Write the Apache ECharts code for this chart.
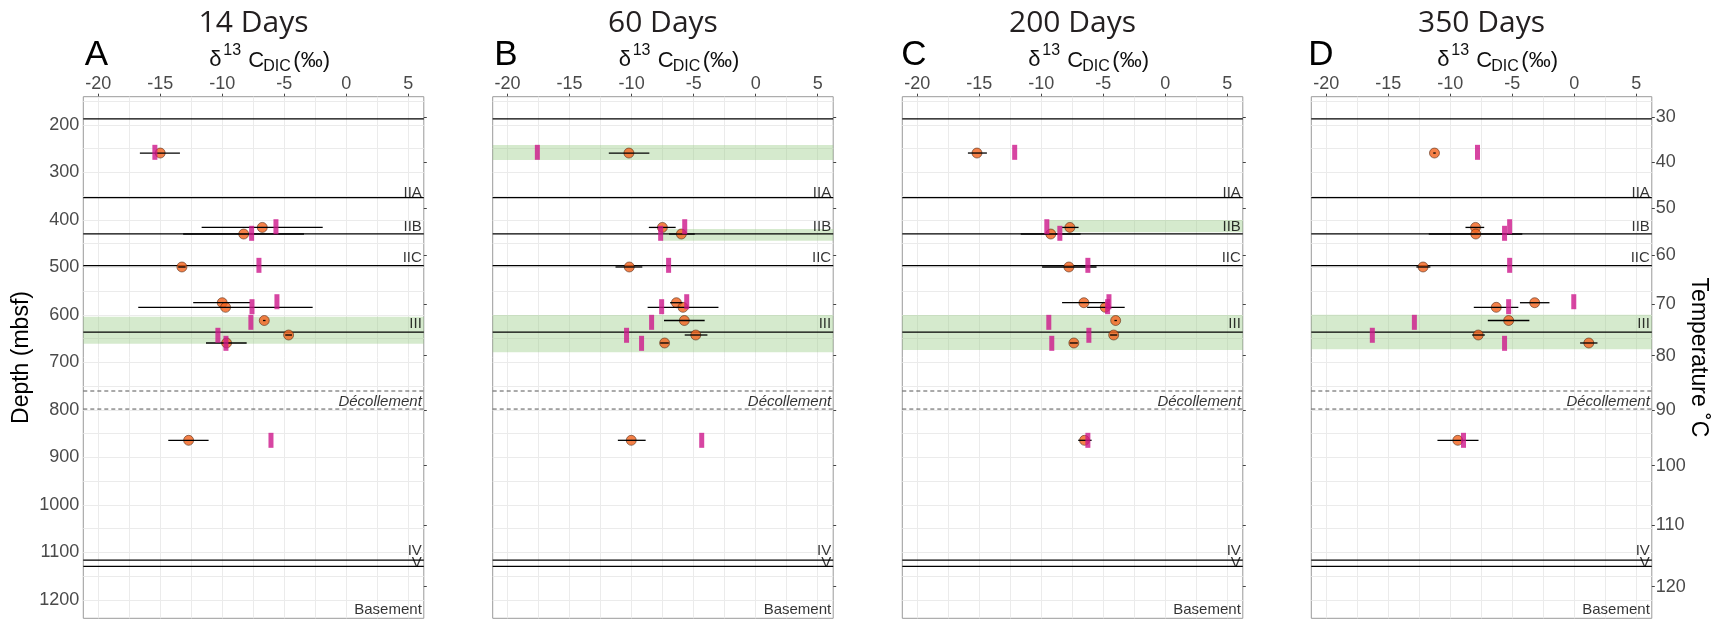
<!DOCTYPE html>
<html>
<head>
<meta charset="utf-8">
<script src="https://cdn.jsdelivr.net/npm/echarts@6/dist/echarts.min.js"></script>
<style>
  html, body { margin: 0; padding: 0; background: #ffffff; }
  #chart { width: 1717px; height: 621px; }
</style>
</head>
<body>
<div id="chart"></div>
<script>
// ---- data -------------------------------------------------------------
const panelTitles = ['14 Days', '60 Days', '200 Days', '350 Days'];
const panelLetters = ['A', 'B', 'C', 'D'];

const xTicks = [-20, -15, -10, -5, 0, 5];
const xGridValues = [-20, -17.5, -15, -12.5, -10, -7.5, -5, -2.5, 0, 2.5, 5];
const depthTicks = [200, 300, 400, 500, 600, 700, 800, 900, 1000, 1100, 1200];
const depthGridValues = [150, 200, 250, 300, 350, 400, 450, 500, 550, 600, 650, 700, 750,
  800, 850, 900, 950, 1000, 1050, 1100, 1150, 1200];

// temperature scale (right axis) and the depths where each value falls
const tempTicks = [30, 40, 50, 60, 70, 80, 90, 100, 110, 120];
const tempTickDepths = [183.8, 278.5, 375.4, 473.7, 576.8, 685.7, 800, 917.3, 1042.1, 1172.0];

// lithologic unit boundaries (mbsf)
const unitBoundaries = [187, 353, 429, 496, 636, 1116, 1129];
const decollementBounds = [760, 798];
const unitNames = ['IIA', 'IIB', 'IIC', 'III', 'Décollement', 'IV', 'V', 'Basement'];
const unitNameDepths = [342.5, 414.7, 480, 617.9, 782.5, 1096.8, 1122.1, 1220.4];

// sample depths (mbsf)
const sampleDepths = [259, 415.6, 429.5, 498.9, 574.1, 583.8, 611.6, 642.1, 658.9, 863.8];
const markerDepths = [257.5, 414.1, 428, 495.4, 572, 582.5, 615.4, 642.7, 659.6, 863.8];

// δ13C-DIC (‰): measured mean, error range, reference value
const dic14    = [-15.0, -6.77, -8.27, -13.25, -10.0, -9.73, -6.61, -4.65, -9.65, -12.71];
const dicLo14  = [-16.64, -11.66, -13.15, -13.55, -12.34, -16.77, -6.71, -4.92, -11.31, -14.35];
const dicHi14  = [-13.41, -1.90, -3.41, -12.95, -7.75, -2.71, -6.51, -4.38, -8.03, -11.10];
const mark14   = [-15.43, -5.67, -7.63, -7.04, -5.59, -7.60, -7.69, -10.35, -9.70, -6.07];

const dic60    = [-10.22, -7.52, -5.99, -10.19, -6.39, -5.86, -5.75, -4.83, -7.34, -10.03];
const dicLo60  = [-11.84, -8.61, -6.99, -11.30, -6.9, -8.71, -7.39, -5.72, -7.7, -11.11];
const dicHi60  = [-8.57, -6.45, -4.91, -9.14, -5.9, -3.0, -4.11, -3.89, -7.0, -8.87];
const mark60   = [-17.6, -5.72, -7.66, -7.02, -5.56, -7.58, -8.39, -10.41, -9.20, -4.35];

const dic200   = [-15.18, -7.69, -9.23, -7.77, -6.56, -4.84, -4.0, -4.16, -7.37, -6.51];
const dicLo200 = [-15.91, -8.32, -11.65, -9.93, -8.32, -6.30, -4.1, -4.45, -7.7, -7.02];
const dicHi200 = [-14.38, -6.99, -6.83, -5.54, -4.87, -3.27, -3.9, -3.87, -7.05, -5.94];
const mark200  = [-12.14, -9.55, -8.50, -6.24, -4.54, -4.65, -9.39, -6.16, -9.15, -6.24];

const dic350   = [-11.27, -7.96, -7.94, -12.19, -3.19, -6.29, -5.29, -7.74, 1.17, -9.39];
const dicLo350 = [-11.37, -8.77, -11.73, -12.73, -4.38, -8.10, -6.97, -8.23, 0.47, -11.03];
const dicHi350 = [-11.17, -7.26, -4.19, -11.60, -2.0, -4.51, -3.62, -7.21, 1.87, -7.72];
const mark350  = [-7.80, -5.21, -5.62, -5.21, -0.04, -5.29, -12.89, -16.28, -5.62, -8.93];

// highlighted intervals: [start δ13C (null = full width), top depth, bottom depth]
const bands14  = [[null, 603.6, 660.4]];
const bands60  = [[null, 242.1, 273.7], [-7.52, 418.9, 443.6], [null, 600, 678.5]];
const bands200 = [[-9.45, 400, 425.9], [null, 600, 673.7]];
const bands350 = [[null, 599.4, 672.2]];

const panels = [
  { mean: dic14,  lo: dicLo14,  hi: dicHi14,  mark: mark14,  bands: bands14 },
  { mean: dic60,  lo: dicLo60,  hi: dicHi60,  mark: mark60,  bands: bands60 },
  { mean: dic200, lo: dicLo200, hi: dicHi200, mark: mark200, bands: bands200 },
  { mean: dic350, lo: dicLo350, hi: dicHi350, mark: mark350, bands: bands350 }
];

// ---- layout -----------------------------------------------------------
const X_MIN = -21.2, X_MAX = 6.25;
const Y_MIN = 140.4, Y_MAX = 1238.5;
const gridLefts = [83.3, 492.7, 902.3, 1311.3];
const GRID_W = 340.5, GRID_TOP = 96.7, GRID_H = 521.6;
const SANS = '"Liberation Sans", Arial, sans-serif';
const TICK_FONT = 18;

// snap a pixel coordinate to the centre of a device pixel for crisp 1px lines
const crisp = v => Math.round(v - 0.5) + 0.5;

const chart = echarts.init(document.getElementById('chart'), null, { renderer: 'canvas' });

const grids = [], xAxes = [], yAxes = [], series = [], graphics = [];

panels.forEach((p, i) => {
  grids.push({
    left: gridLefts[i], top: GRID_TOP, width: GRID_W, height: GRID_H,
    show: true, borderColor: '#9a9a9a', borderWidth: 1, backgroundColor: '#ffffff',
    containLabel: false, outerBoundsMode: 'none'
  });

  xAxes.push({
    type: 'value', gridIndex: i, position: 'top', min: X_MIN, max: X_MAX,
    axisLine: { show: false },
    axisTick: { show: true, length: 3, customValues: xTicks, lineStyle: { color: '#444' } },
    axisLabel: { show: true, customValues: xTicks, margin: 4, color: '#4a4a4a',
      fontSize: TICK_FONT, fontFamily: SANS, formatter: v => String(v) },
    splitLine: { show: false }, minorTick: { show: false }, minorSplitLine: { show: false }
  });

  // depth axis (left)
  yAxes.push({
    type: 'value', gridIndex: i, position: 'left', inverse: true, min: Y_MIN, max: Y_MAX,
    axisLine: { show: false },
    axisTick: { show: true, length: 3, customValues: depthTicks, lineStyle: { color: '#444' } },
    axisLabel: { show: i === 0, customValues: depthTicks, margin: 4, color: '#4a4a4a',
      fontSize: TICK_FONT, fontFamily: SANS, formatter: v => String(v) },
    splitLine: { show: false }, minorTick: { show: false }, minorSplitLine: { show: false }
  });
  // temperature axis (right), positioned on the same depth scale
  yAxes.push({
    type: 'value', gridIndex: i, position: 'right', inverse: true, min: Y_MIN, max: Y_MAX,
    axisLine: { show: false },
    axisTick: { show: true, length: 3, customValues: tempTickDepths, lineStyle: { color: '#444' } },
    axisLabel: {
      show: i === 3, customValues: tempTickDepths, margin: 4, color: '#4a4a4a',
      fontSize: TICK_FONT, fontFamily: SANS,
      formatter: v => {
        let best = 0;
        tempTickDepths.forEach((d, k) => { if (Math.abs(d - v) < Math.abs(tempTickDepths[best] - v)) best = k; });
        return String(tempTicks[best]);
      }
    },
    splitLine: { show: false }, minorTick: { show: false }, minorSplitLine: { show: false }
  });

  const yIdx = i * 2;

  // background: grid lines, highlighted intervals, unit boundaries
  series.push({
    type: 'custom', xAxisIndex: i, yAxisIndex: yIdx, silent: true, z: 1, clip: false,
    data: [[0, 500]],
    renderItem(params, api) {
      const cs = params.coordSys;
      const X = v => api.coord([v, 500])[0];
      const Y = d => api.coord([0, d])[1];
      const x0 = cs.x, x1 = cs.x + cs.width, y0 = cs.y, y1 = cs.y + cs.height;
      const kids = [];
      xGridValues.forEach(v => { const gx = crisp(X(v)); kids.push({ type: 'line', z2: 1,
        shape: { x1: gx, y1: y0, x2: gx, y2: y1 }, style: { stroke: '#ebebeb', lineWidth: 1 } }); });
      depthGridValues.forEach(d => { const gy = crisp(Y(d)); kids.push({ type: 'line', z2: 1,
        shape: { x1: x0, y1: gy, x2: x1, y2: gy }, style: { stroke: '#ebebeb', lineWidth: 1 } }); });
      p.bands.forEach(b => {
        const bx = b[0] === null ? x0 : X(b[0]);
        kids.push({ type: 'rect', z2: 2,
          shape: { x: bx, y: Y(b[1]), width: x1 - bx, height: Y(b[2]) - Y(b[1]) },
          style: { fill: 'rgba(150, 203, 130, 0.40)' } });
      });
      unitBoundaries.forEach(d => kids.push({ type: 'line', z2: 3,
        shape: { x1: x0, y1: Y(d), x2: x1, y2: Y(d) }, style: { stroke: '#000', lineWidth: 1.2 } }));
      decollementBounds.forEach(d => kids.push({ type: 'line', z2: 3,
        shape: { x1: x0, y1: Y(d), x2: x1, y2: Y(d) },
        style: { stroke: '#555', lineWidth: 1, lineDash: [4, 3] } }));
      return { type: 'group', children: kids };
    }
  });

  // unit names
  series.push({
    type: 'scatter', xAxisIndex: i, yAxisIndex: yIdx, silent: true, z: 6,
    symbolSize: 0,
    data: unitNames.map((n, k) => ({
      name: n, value: [X_MAX, unitNameDepths[k]],
      label: { fontStyle: n === 'Décollement' ? 'italic' : 'normal' }
    })),
    label: { show: true, position: 'left', distance: 2, formatter: '{b}',
      color: '#000', fontSize: 15, fontFamily: SANS }
  });

  // measured δ13C-DIC
  series.push({
    type: 'scatter', xAxisIndex: i, yAxisIndex: yIdx, silent: true, z: 3,
    symbol: 'circle', symbolSize: 10,
    itemStyle: { color: '#f3621b', borderColor: '#4a2410', borderWidth: 0.7 },
    data: sampleDepths.map((d, k) => [p.mean[k], d])
  });

  // error bars
  series.push({
    type: 'custom', xAxisIndex: i, yAxisIndex: yIdx, silent: true, z: 4,
    encode: { x: [0, 1], y: 2 },
    data: sampleDepths.map((d, k) => [p.lo[k], p.hi[k], d]),
    renderItem(params, api) {
      const a = api.coord([api.value(0), api.value(2)]);
      const b = api.coord([api.value(1), api.value(2)]);
      return { type: 'line', shape: { x1: a[0], y1: a[1], x2: b[0], y2: b[1] },
        style: { stroke: '#000', lineWidth: 1.3 } };
    }
  });

  // reference values
  series.push({
    type: 'scatter', xAxisIndex: i, yAxisIndex: yIdx, silent: true, z: 5,
    symbol: 'rect', symbolSize: [5, 15],
    itemStyle: { color: '#cd168b' },
    data: markerDepths.map((d, k) => [p.mark[k], d])
  });

  // panel title, letter, and x-axis title
  const L = gridLefts[i];
  graphics.push({ type: 'text', x: L + GRID_W / 2, y: 23, silent: true,
    style: { text: panelTitles[i], align: 'center', verticalAlign: 'middle',
      font: '30px "Open Sans", sans-serif', fill: '#231f20' } });
  graphics.push({ type: 'text', x: L + [1.5, 1.5, -1, -3][i], y: 55, silent: true,
    style: { text: panelLetters[i], align: 'left', verticalAlign: 'middle',
      font: '35px ' + SANS, fill: '#000' } });
  const frag = [
    { t: 'δ', dx: 126, y: 60, s: 22 },
    { t: '13', dx: 140, y: 51, s: 16 },
    { t: 'C', dx: 165, y: 60.5, s: 22 },
    { t: 'DIC', dx: 180, y: 66.5, s: 16 },
    { t: '(‰)', dx: 210, y: 61, s: 22 }
  ];
  frag.forEach(f => graphics.push({ type: 'text', x: L + f.dx, y: f.y, silent: true,
    style: { text: f.t, align: 'left', verticalAlign: 'middle', font: f.s + 'px ' + SANS, fill: '#111' } }));
});

graphics.push({ type: 'text', x: 22, y: 357.5, rotation: Math.PI / 2, silent: true,
  style: { text: 'Depth (mbsf)', align: 'center', verticalAlign: 'middle', font: '23px ' + SANS, fill: '#000' } });
graphics.push({ type: 'text', x: 1698, y: 357.5, rotation: -Math.PI / 2, silent: true,
  style: { text: 'Temperature ˚C', align: 'center', verticalAlign: 'middle', font: '23px ' + SANS, fill: '#000' } });

chart.setOption({
  animation: false,
  backgroundColor: '#ffffff',
  grid: grids,
  xAxis: xAxes,
  yAxis: yAxes,
  series: series,
  graphic: graphics
});
</script>
</body>
</html>
